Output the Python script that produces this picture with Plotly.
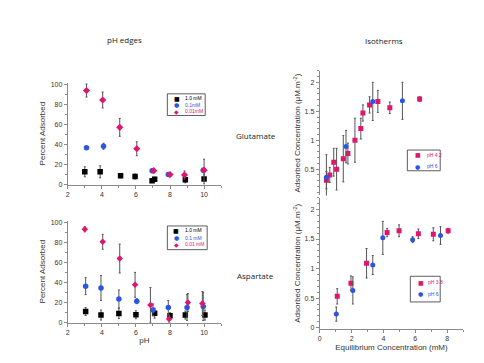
import plotly.graph_objects as go

W, H = 484, 363

# ---------------- data ----------------
# Glutamate pH edges
ph_glu_1mM = [3.0, 3.9, 5.1, 5.95, 6.95, 7.1, 8.9, 10.0]
pct_glu_1mM = [12.3, 12.3, 8.3, 7.6, 3.4, 4.9, 4.3, 5.0]
err_glu_1mM = [5, 6, 2, 2.5, 1.5, 2, 3, 5]
ph_glu_01mM = [3.1, 4.1, 6.95, 7.9, 9.95]
pct_glu_01mM = [36.5, 38.0, 13.5, 9.5, 14.0]
err_glu_01mM = [1.5, 3, 2, 1, 2]
ph_glu_001mM = [3.1, 4.05, 5.05, 6.05, 7.05, 8.0, 8.85, 10.0]
pct_glu_001mM = [94.0, 84.5, 57.0, 35.5, 13.5, 9.5, 9.2, 14.0]
err_glu_001mM = [6.5, 8, 9, 7, 1.5, 1, 4, 11]

# Aspartate pH edges
ph_asp_1mM = [3.05, 3.95, 5.0, 6.0, 7.1, 8.0, 8.9, 10.05]
pct_asp_1mM = [10.8, 7.3, 8.8, 7.6, 9.2, 6.6, 7.3, 7.3]
err_asp_1mM = [4, 5, 5, 4, 5, 3, 4, 5]
ph_asp_01mM = [3.05, 3.95, 5.0, 6.05, 7.0, 7.9, 9.0, 9.95]
pct_asp_01mM = [36.3, 34.5, 23.5, 21.2, 12.5, 14.8, 15.0, 15.8]
err_asp_01mM = [8.5, 12.5, 9, 2.5, 6, 7, 13, 14]
ph_asp_001mM = [3.0, 4.05, 5.05, 5.95, 6.85, 7.95, 9.05, 9.9]
pct_asp_001mM = [93.3, 80.8, 64.0, 37.6, 17.5, 3.3, 19.8, 18.8]
err_asp_001mM = [2.5, 7.5, 14.5, 12.5, 17.5, 4, 9, 12]

# Glutamate isotherms
conc_glu_ph42 = [0.42, 0.63, 0.88, 1.06, 1.48, 1.77, 2.21, 2.58, 2.71, 3.13, 3.65, 4.4, 6.27]
ads_glu_ph42 = [0.31, 0.40, 0.62, 0.50, 0.68, 0.77, 1.00, 1.20, 1.47, 1.61, 1.67, 1.56, 1.71]
err_glu_ph42 = [0.15, 0.13, 0.24, 0.36, 0.40, 0.18, 0.38, 0.18, 0.14, 0.14, 0.19, 0.10, 0.04]
conc_glu_ph6 = [0.42, 1.65, 3.33, 5.19]
ads_glu_ph6 = [0.36, 0.89, 1.67, 1.68]
err_glu_ph6 = [0.39, 0.28, 0.33, 0.32]

# Aspartate isotherms
conc_asp_ph38 = [1.1, 1.96, 2.94, 4.23, 4.98, 6.19, 7.13, 8.06]
ads_asp_ph38 = [0.53, 0.75, 1.09, 1.61, 1.64, 1.59, 1.58, 1.64]
err_asp_ph38 = [0.13, 0.125, 0.25, 0.07, 0.10, 0.08, 0.11, 0.04]
conc_asp_ph6 = [1.04, 2.08, 3.33, 3.96, 5.83, 7.58]
ads_asp_ph6 = [0.23, 0.63, 1.06, 1.52, 1.49, 1.56]
err_asp_ph6 = [0.12, 0.23, 0.16, 0.28, 0.05, 0.15]

ph_ticks = [2, 4, 6, 8, 10]
pct_ticks = [0, 20, 40, 60, 80, 100]
conc_ticks = [0, 2, 4, 6, 8]
ads_ticks = [0, 0.5, 1, 1.5, 2]

# ---------------- style ----------------
BLACK = "#000000"
BLUE = "#2a55e5"
PINK = "#e0156e"
ERRC = "#555555"
FONT = "Liberation Sans, Arial, sans-serif"


def px_x(p):
    return p / W


def px_y(p):
    return 1 - p / H


fig = go.Figure()


def add(x, y, e, color, symbol, size, xa, ya):
    fig.add_trace(go.Scatter(
        x=x, y=y, mode="markers", xaxis=xa, yaxis=ya, showlegend=False,
        marker=dict(color=color, symbol=symbol, size=size, line=dict(width=0)),
        error_y=dict(type="data", array=e, visible=True, color=ERRC, thickness=1, width=1),
    ))


# top-left: glutamate pH edge
add(ph_glu_1mM, pct_glu_1mM, err_glu_1mM, BLACK, "square", 5.5, "x", "y")
add(ph_glu_01mM, pct_glu_01mM, err_glu_01mM, BLUE, "circle", 5.5, "x", "y")
add(ph_glu_001mM, pct_glu_001mM, err_glu_001mM, PINK, "diamond", 5.5, "x", "y")
# bottom-left: aspartate pH edge
add(ph_asp_1mM, pct_asp_1mM, err_asp_1mM, BLACK, "square", 5.5, "x2", "y2")
add(ph_asp_01mM, pct_asp_01mM, err_asp_01mM, BLUE, "circle", 5.5, "x2", "y2")
add(ph_asp_001mM, pct_asp_001mM, err_asp_001mM, PINK, "diamond", 5, "x2", "y2")
# top-right: glutamate isotherm
add(conc_glu_ph42, ads_glu_ph42, err_glu_ph42, PINK, "square", 5, "x3", "y3")
add(conc_glu_ph6, ads_glu_ph6, err_glu_ph6, BLUE, "circle", 5, "x3", "y3")
# bottom-right: aspartate isotherm
add(conc_asp_ph38, ads_asp_ph38, err_asp_ph38, PINK, "square", 5, "x4", "y4")
add(conc_asp_ph6, ads_asp_ph6, err_asp_ph6, BLUE, "circle", 5, "x4", "y4")

axis_common = dict(
    showline=True, linecolor="#8a8a8a", linewidth=1, ticks="outside", ticklen=3,
    tickcolor="#8a8a8a", tickwidth=1, showgrid=False, zeroline=False,
    tickfont=dict(family=FONT, size=7, color="#333333"),
)
title_font = dict(family=FONT, size=8, color="#333333")

left_xd = [px_x(58), px_x(212)]
right_xd = [px_x(311), px_x(455)]

fig.update_layout(
    width=W, height=H, margin=dict(l=0, r=0, t=0, b=0),
    paper_bgcolor="white", plot_bgcolor="white",
    font=dict(family=FONT),
    xaxis=dict(domain=left_xd, range=[2, 11], tickvals=ph_ticks, anchor="y",
               minor=dict(dtick=1, ticklen=2, ticks="outside", tickcolor="#8a8a8a"), **axis_common),
    yaxis=dict(domain=[px_y(177), px_y(73.6)], range=[-0.5, 102], tickvals=pct_ticks, anchor="x",
               title=dict(text="Percent Adsorbed", font=title_font, standoff=3),
               minor=dict(dtick=10, ticklen=2, ticks="outside", tickcolor="#8a8a8a"), **axis_common),
    xaxis2=dict(domain=left_xd, range=[2, 11], tickvals=ph_ticks, anchor="y2",
                title=dict(text="pH", font=title_font, standoff=2),
                minor=dict(dtick=1, ticklen=2, ticks="outside", tickcolor="#8a8a8a"), **axis_common),
    yaxis2=dict(domain=[px_y(317), px_y(213.6)], range=[-0.3, 102], tickvals=pct_ticks, anchor="x2",
                title=dict(text="Percent Adsorbed", font=title_font, standoff=3),
                minor=dict(dtick=10, ticklen=2, ticks="outside", tickcolor="#8a8a8a"), **axis_common),
    xaxis3=dict(domain=right_xd, range=[0, 9], anchor="y3", visible=False),
    yaxis3=dict(domain=[px_y(188), px_y(61.6)], range=[0.046, 2.2], tickvals=ads_ticks[1:], anchor="x3",
                title=dict(text="Adsorbed Concentration (μM.m<sup>-2</sup>)", font=title_font, standoff=2),
                minor=dict(dtick=0.1, ticklen=2, ticks="outside", tickcolor="#8a8a8a"), **axis_common),
    xaxis4=dict(domain=right_xd, range=[0, 9], tickvals=conc_ticks, anchor="y4",
                title=dict(text="Equilibrium Concentration (mM)", font=title_font, standoff=3),
                minor=dict(dtick=1, ticklen=2, ticks="outside", tickcolor="#8a8a8a"), **axis_common),
    yaxis4=dict(domain=[px_y(323.3), px_y(190.3)], range=[-0.02, 2.2], tickvals=ads_ticks, anchor="x4",
                title=dict(text="Adsorbed Concentration (μM.m<sup>-2</sup>)", font=title_font, standoff=2),
                minor=dict(dtick=0.1, ticklen=2, ticks="outside", tickcolor="#8a8a8a"), **axis_common),
)

# headings
heading_font = dict(family="Open Sans, Liberation Sans, sans-serif", size=8, color="#222222")
for txt, cx, cy in [("pH edges", 115, 30), ("Isotherms", 376, 31),
                    ("Glutamate", 247, 127), ("Aspartate", 247, 269)]:
    fig.add_annotation(text=txt, x=px_x(cx), y=px_y(cy), xref="paper", yref="paper",
                       showarrow=False, xanchor="center", yanchor="middle", font=heading_font)

# legends (boxes + symbol/label annotations)
legends = [
    ((158, 85, 196, 107), [("■", "1.0 mM", BLACK, 89.3), ("●", "0.1mM", BLUE, 96.0), ("◆", "0.01mM", PINK, 102.7)], 167.5, 174),
    ((158, 219, 198, 243), [("■", "1.0 mM", BLACK, 223.5), ("●", "0.1 mM", BLUE, 230.7), ("◆", "0.01 mM", PINK, 237.7)], 166.7, 174),
    ((399, 142, 432, 163), [("■", "pH 4.2", PINK, 146.7), ("●", "pH 6", BLUE, 158.3)], 409.3, 416.5),
    ((402, 270, 432, 296), [("■", "pH 3.8", PINK, 276.0), ("●", "pH 6", BLUE, 287.7)], 412.3, 418),
]
for (x0, y0, x1, y1), items, mx, tx in legends:
    fig.add_shape(type="rect", xref="paper", yref="paper",
                  x0=px_x(x0), x1=px_x(x1), y0=px_y(y1), y1=px_y(y0),
                  line=dict(color="#333333", width=0.8), fillcolor="white")
    for sym, label, color, yy in items:
        fig.add_annotation(text=sym, x=px_x(mx), y=px_y(yy), xref="paper", yref="paper",
                           showarrow=False, xanchor="center", yanchor="middle",
                           font=dict(family="DejaVu Sans", size=6, color=color))
        fig.add_annotation(text=label, x=px_x(tx), y=px_y(yy), xref="paper", yref="paper",
                           showarrow=False, xanchor="left", yanchor="middle",
                           font=dict(family=FONT, size=5, color=color))

fig.write_html("out.html")
